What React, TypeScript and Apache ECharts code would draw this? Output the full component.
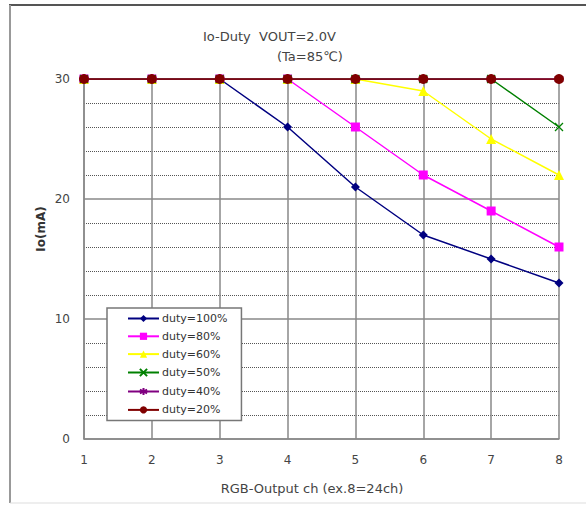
import React, { useEffect, useRef } from "react";
import * as echarts from "echarts";

const channels = [1, 2, 3, 4, 5, 6, 7, 8];
const duty100 = [30, 30, 30, 26, 21, 17, 15, 13];
const duty80 = [30, 30, 30, 30, 26, 22, 19, 16];
const duty60 = [30, 30, 30, 30, 30, 29, 25, 22];
const duty50 = [30, 30, 30, 30, 30, 30, 30, 26];
const duty40 = [30, 30, 30, 30, 30, 30, 30, 30];
const duty20 = [30, 30, 30, 30, 30, 30, 30, 30];
const seriesNames = ["duty=100%", "duty=80%", "duty=60%", "duty=50%", "duty=40%", "duty=20%"];

const FONT = "DejaVu Sans";

export default function App() {
  const ref = useRef<HTMLDivElement>(null);
  useEffect(() => {
    if (!ref.current) return;
    const chart = echarts.init(ref.current, undefined, { renderer: "svg" });
    const pair = (vals: number[]) => channels.map((c, i) => [c, vals[i]]);
    const mk = (name: string, vals: number[], color: string, symbol: string, size: number, stroke?: boolean) => ({
      type: "line",
      name,
      data: pair(vals),
      symbol,
      symbolSize: size,
      showSymbol: true,
      lineStyle: { color, width: 1.5 },
      itemStyle: stroke
        ? { color: "none", borderColor: color, borderWidth: 1.3 }
        : { color, borderColor: color, borderWidth: 0 },
      emphasis: { disabled: true },
    });
    chart.setOption({
      animation: false,
      backgroundColor: "#fff",
      textStyle: { fontFamily: FONT },
      grid: { left: 84, top: 79, width: 475, height: 360, containLabel: false },
      xAxis: {
        type: "value",
        min: 1,
        max: 8,
        interval: 1,
        axisLine: { show: true, lineStyle: { color: "#888", width: 1.5 } },
        axisTick: { show: false },
        axisLabel: { color: "#444", fontSize: 12, fontFamily: FONT, margin: 15 },
        splitLine: { show: true, lineStyle: { color: "#888", width: 1.5 } },
      },
      yAxis: {
        type: "value",
        min: 0,
        max: 30,
        interval: 10,
        axisLine: { show: true, lineStyle: { color: "#888", width: 1.5 } },
        axisTick: { show: false },
        axisLabel: { color: "#444", fontSize: 12, fontFamily: FONT, margin: 14 },
        splitLine: { show: true, lineStyle: { color: "#888", width: 1.5 } },
        minorTick: { show: false, splitNumber: 5 },
        minorSplitLine: { show: true, lineStyle: { color: "#555", width: 1, type: [1, 1] } },
      },
      legend: {
        data: seriesNames,
        orient: "vertical",
        left: 107,
        top: 308,
        itemWidth: 31,
        itemHeight: 9,
        itemGap: 6.8,
        padding: [5, 14, 5, 20],
        backgroundColor: "#fff",
        borderColor: "#777",
        borderWidth: 1.5,
        textStyle: { fontSize: 11, color: "#333", fontFamily: FONT, padding: [0, 0, 0, -2] },
      },
      graphic: [
        { type: "line", shape: { x1: 9, y1: 5, x2: 586, y2: 5 }, style: { stroke: "#555", lineWidth: 2 } },
        { type: "line", shape: { x1: 10, y1: 5, x2: 10, y2: 503 }, style: { stroke: "#999", lineWidth: 2 } },
        { type: "line", shape: { x1: 10, y1: 503, x2: 586, y2: 503 }, style: { stroke: "#ddd", lineWidth: 1 } },
        {
          type: "text",
          left: 203,
          top: 30,
          style: { text: "Io-Duty  VOUT=2.0V", fill: "#444", font: `13px "${FONT}"` },
        },
        {
          type: "text",
          left: 277,
          top: 50,
          style: { text: "(Ta=85℃)", fill: "#444", font: `13px "${FONT}"` },
        },
        {
          type: "text",
          x: 41,
          y: 229,
          rotation: Math.PI / 2,
          style: {
            text: "Io(mA)",
            fill: "#333",
            font: `bold 12px "${FONT}"`,
            align: "center",
            verticalAlign: "middle",
          },
        },
        {
          type: "text",
          x: 312,
          y: 488,
          style: {
            text: "RGB-Output ch (ex.8=24ch)",
            fill: "#444",
            font: `13px "${FONT}"`,
            align: "center",
            verticalAlign: "middle",
          },
        },
      ],
      series: [
        mk(seriesNames[0], duty100, "#000080", "diamond", 9),
        mk(seriesNames[1], duty80, "#ff00ff", "rect", 9),
        mk(seriesNames[2], duty60, "#ffff00", "triangle", 10),
        mk(seriesNames[3], duty50, "#008000", "path://M0,0L10,10M10,0L0,10", 8, true),
        mk(seriesNames[4], duty40, "#800080", "path://M5,0L5,10M0.7,2.5L9.3,7.5M9.3,2.5L0.7,7.5", 9, true),
        mk(seriesNames[5], duty20, "#800000", "circle", 10),
      ],
    });
    return () => chart.dispose();
  }, []);
  return <div ref={ref} style={{ position: "fixed", left: 0, top: 0, width: 586, height: 505 }} />;
}
